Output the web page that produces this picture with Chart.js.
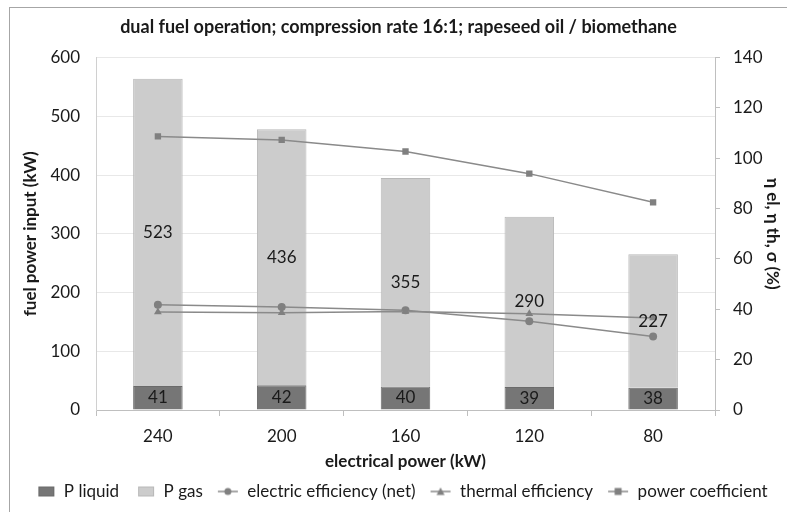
<!DOCTYPE html>
<html>
<head>
<meta charset="utf-8">
<script src="https://cdn.jsdelivr.net/npm/chart.js@4.4.1/dist/chart.umd.min.js"></script>
<style>
  html, body { margin: 0; padding: 0; background: #fff; }
  #wrap { position: relative; width: 787px; height: 512px; }
  #frame { position: absolute; left: 9px; top: 7px; width: 790px; height: 520px; border: 1px solid #a6a6a6; box-sizing: border-box; pointer-events: none; }
</style>
</head>
<body>
<div id="wrap">
  <canvas id="myChart" width="787" height="512"></canvas>
  <div id="frame"></div>
</div>
<script>
// electrical power categories (kW)
const categories = ['240', '200', '160', '120', '80'];
// fuel power input (kW)
const pLiquid = [41, 42, 40, 39, 38];
const pGas = [523, 436, 355, 290, 227];
// efficiencies (%)
const elEfficiency = [41.8, 40.9, 39.6, 35.3, 29.2];
const thEfficiency = [38.9, 38.6, 39.1, 38.2, 36.5];
const powerCoeff = [108.7, 107.3, 102.7, 93.9, 82.5];

const fontFam = 'Lato, "Open Sans", sans-serif';
const lineColor = '#8a8a8a';
const markColor = '#808080';

// petite image pour la légende : ligne + marqueur (calée à droite)
function legendIcon(shape) {
    const c = document.createElement('canvas');
    c.width = 26; c.height = 12;
    const g = c.getContext('2d');
    g.strokeStyle = lineColor;
    g.lineWidth = 1.5;
    g.beginPath(); g.moveTo(5, 6); g.lineTo(25, 6); g.stroke();
    g.fillStyle = markColor;
    g.beginPath();
    if (shape === 'circle') {
        g.arc(15, 6, 3.5, 0, Math.PI * 2);
    } else if (shape === 'triangle') {
        g.moveTo(15, 2); g.lineTo(19, 9.5); g.lineTo(11, 9.5); g.closePath();
    } else {
        g.rect(11.5, 2.5, 7, 7);
    }
    g.fill();
    return c;
}
function boxIcon(fill, stroke) {
    const c = document.createElement('canvas');
    c.width = 26; c.height = 12;
    const g = c.getContext('2d');
    g.fillStyle = fill;
    g.fillRect(9, 1, 16, 10);
    g.strokeStyle = stroke;
    g.strokeRect(9.5, 1.5, 15, 9);
    return c;
}

// étiquettes des barres, centrées dans chaque segment
const barLabels = {
    id: 'barLabels',
    afterDatasetsDraw(chart) {
        const ctx = chart.ctx;
        ctx.save();
        ctx.font = '17px ' + fontFam;
        ctx.fillStyle = '#1a1a1a';
        ctx.textAlign = 'center';
        ctx.textBaseline = 'middle';
        chart.data.datasets.forEach((ds, i) => {
            if (ds.type !== 'bar') return;
            const meta = chart.getDatasetMeta(i);
            meta.data.forEach((bar, j) => {
                const y = (bar.y + bar.base) / 2;
                ctx.fillText(String(ds.data[j]), bar.x, y);
            });
        });
        ctx.restore();
    }
};

const tickFont = { size: 17, family: fontFam };
const titleFont = { size: 17, family: fontFam, weight: 'bold' };

let ctx = document.getElementById('myChart').getContext('2d');
let myChart = new Chart(ctx, {
    data: {
        labels: categories,
        datasets: [
            {
                type: 'line', label: 'power coefficient', data: powerCoeff, yAxisID: 'y1',
                borderColor: lineColor, borderWidth: 1.5, backgroundColor: markColor,
                pointStyle: 'rect', pointRadius: 4.5, pointBorderWidth: 0, order: 1
            },
            {
                type: 'line', label: 'thermal efficiency', data: thEfficiency, yAxisID: 'y1',
                borderColor: lineColor, borderWidth: 1.5, backgroundColor: markColor,
                pointStyle: 'triangle', pointRadius: 4.5, pointBorderWidth: 0, order: 1
            },
            {
                type: 'line', label: 'electric efficiency (net)', data: elEfficiency, yAxisID: 'y1',
                borderColor: lineColor, borderWidth: 1.5, backgroundColor: markColor,
                pointStyle: 'circle', pointRadius: 4, pointBorderWidth: 0, order: 1
            },
            {
                type: 'bar', label: 'P liquid', data: pLiquid, yAxisID: 'y', stack: 's',
                backgroundColor: '#767676', borderColor: '#6a6a6a', borderWidth: 1,
                barPercentage: 0.4, categoryPercentage: 1, order: 2
            },
            {
                type: 'bar', label: 'P gas', data: pGas, yAxisID: 'y', stack: 's',
                backgroundColor: '#cccccc', borderColor: '#b8b8b8', borderWidth: 1,
                barPercentage: 0.4, categoryPercentage: 1, order: 2
            }
        ]
    },
    options: {
        responsive: false,
        animation: false,
        layout: { padding: { left: 10, right: 0, top: 6, bottom: 2 } },
        plugins: {
            title: {
                display: true,
                text: 'dual fuel operation; compression rate 16:1; rapeseed oil / biomethane',
                color: '#1a1a1a',
                font: { size: 18, family: fontFam, weight: 'bold' },
                padding: { top: 10, bottom: 20 }
            },
            legend: {
                position: 'bottom',
                labels: {
                    usePointStyle: true,
                    pointStyleWidth: 26,
                    color: '#1a1a1a',
                    font: { size: 17, family: fontFam },
                    padding: 10,
                    generateLabels: function (chart) {
                        const icons = {
                            'P liquid': boxIcon('#767676', '#6a6a6a'),
                            'P gas': boxIcon('#cccccc', '#b8b8b8'),
                            'electric efficiency (net)': legendIcon('circle'),
                            'thermal efficiency': legendIcon('triangle'),
                            'power coefficient': legendIcon('rect')
                        };
                        const order = ['P liquid', 'P gas', 'electric efficiency (net)', 'thermal efficiency', 'power coefficient'];
                        return order.map(name => {
                            const idx = chart.data.datasets.findIndex(d => d.label === name);
                            return {
                                text: name, pointStyle: icons[name], datasetIndex: idx,
                                fontColor: '#1a1a1a', lineWidth: 0, strokeStyle: 'transparent', hidden: false
                            };
                        });
                    }
                }
            },
            tooltip: { enabled: false }
        },
        scales: {
            x: {
                stacked: true,
                offset: true,
                grid: { display: true, drawOnChartArea: false, color: '#bfbfbf', tickLength: 6, offset: true },
                border: { color: '#bfbfbf' },
                ticks: { font: tickFont, color: '#1a1a1a', padding: 10 },
                title: { display: true, text: 'electrical power (kW)', font: titleFont, color: '#1a1a1a', padding: { top: 5, bottom: 1 } },
                afterFit: s => { s.height = 63; }
            },
            y: {
                stacked: true,
                position: 'left',
                min: 0, max: 600,
                ticks: { stepSize: 100, font: tickFont, color: '#1a1a1a', padding: 16 },
                grid: { color: '#e8e8e8', drawTicks: false },
                border: { color: '#d0d0d0' },
                title: { display: true, text: 'fuel power input (kW)', font: titleFont, color: '#1a1a1a', padding: { top: 10, bottom: 4 } },
                afterFit: s => { s.width = 86; }
            },
            y1: {
                position: 'right',
                min: 0, max: 140,
                ticks: { stepSize: 20, font: tickFont, color: '#1a1a1a', padding: 13 },
                grid: { drawOnChartArea: false, color: '#bfbfbf', tickLength: 5 },
                border: { color: '#bfbfbf' },
                title: { display: true, text: 'η el, η th, σ (%)', font: titleFont, color: '#1a1a1a', padding: { top: 4, bottom: 0 } },
                afterFit: s => { s.width = 72; }
            }
        }
    },
    plugins: [barLabels]
});
</script>
</body>
</html>
